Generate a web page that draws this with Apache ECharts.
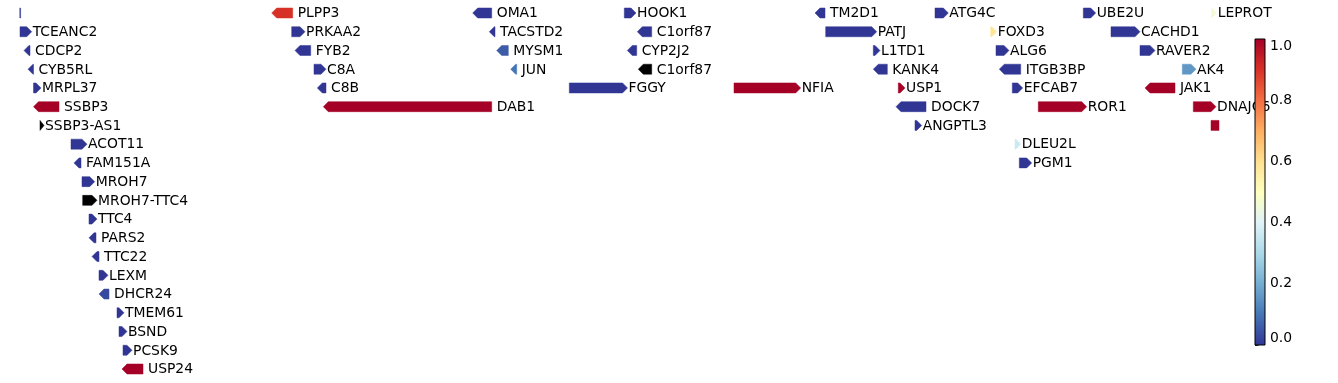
<!DOCTYPE html>
<html>
<head>
<meta charset="utf-8">
<script src="https://cdn.jsdelivr.net/npm/echarts@6/dist/echarts.min.js"></script>
<style>
html,body{margin:0;padding:0;background:#fff;}
#chart{width:1338px;height:383px;}
</style>
</head>
<body>
<div id="chart"></div>
<script>
// Gene track data (positions in track units along the region, row index, strand, score)
const geneNames = ["", "TCEANC2", "CDCP2", "CYB5RL", "MRPL37", "SSBP3", "SSBP3-AS1", "ACOT11", "FAM151A", "MROH7",
  "MROH7-TTC4", "TTC4", "PARS2", "TTC22", "LEXM", "DHCR24", "TMEM61", "BSND", "PCSK9", "USP24",
  "PLPP3", "PRKAA2", "FYB2", "C8A", "C8B", "DAB1", "OMA1", "TACSTD2", "MYSM1", "JUN",
  "FGGY", "HOOK1", "C1orf87", "CYP2J2", "C1orf87", "NFIA", "TM2D1", "PATJ", "L1TD1", "KANK4",
  "USP1", "DOCK7", "ANGPTL3", "ATG4C", "FOXD3", "ALG6", "ITGB3BP", "EFCAB7", "ROR1", "DLEU2L",
  "PGM1", "UBE2U", "CACHD1", "RAVER2", "AK4", "JAK1", "DNAJC6", "", "LEPROT"];
const geneStarts = [19.8, 20, 24, 28, 33.5, 33.5, 40, 71, 74, 82,
  82.7, 89, 89, 92, 99, 99, 117, 119, 123, 122,
  271.7, 291.7, 295, 314, 317.3, 323.3, 472.7, 489.3, 496.7, 510.7,
  569.3, 624.3, 637.3, 627.3, 638.3, 734, 815, 825.7, 873.3, 873.3,
  898.3, 896, 915, 935, 990.7, 996, 999.3, 1012.3, 1038.3, 1015,
  1019.3, 1083.3, 1111, 1140, 1182.3, 1145, 1193.3, 1211, 1211.7];
const geneEnds = [20.6, 31.7, 30, 33.5, 41, 59, 44, 87, 81, 94.7,
  97, 97, 96, 99, 108, 109, 124, 127, 132, 143,
  292.7, 305, 310.7, 326, 326, 491.7, 491.7, 495, 508.3, 516.7,
  627.5, 636, 651.7, 636.7, 651.7, 800.7, 825, 876.7, 880, 887.3,
  905, 926, 921.7, 948.3, 996.7, 1009, 1020.7, 1022.7, 1086.7, 1020.7,
  1031.7, 1095.7, 1140, 1155, 1196, 1175, 1216, 1219, 1216.7];
const geneStrands = [".", "+", "-", "-", "+", "-", "+", "+", "-", "+",
  "+", "+", "-", "-", "+", "-", "+", "+", "+", "-",
  "-", "+", "-", "+", "-", "-", "-", "-", "-", "-",
  "+", "+", "-", "-", "-", "+", "-", "+", "+", "-",
  "+", "-", "+", "+", "+", "+", "-", "+", "+", "+",
  "+", "+", "+", "+", "+", "-", "+", ".", "+"];
const geneRows = [0, 1, 2, 3, 4, 5, 6, 7, 8, 9,
  10, 11, 12, 13, 14, 15, 16, 17, 18, 19,
  0, 1, 2, 3, 4, 5, 0, 1, 2, 3,
  4, 0, 1, 2, 3, 4, 0, 1, 2, 3,
  4, 5, 6, 0, 1, 2, 3, 4, 5, 7,
  8, 0, 1, 2, 3, 4, 5, 6, 0];
const geneScores = [0, 0, 0, 0, 0, 1, null, 0, 0, 0,
  null, 0, 0, 0, 0, 0.03, 0, 0, 0, 1,
  0.9, 0, 0, 0, 0, 1, 0, 0, 0.06, 0.1,
  0, 0, 0, 0, null, 1, 0, 0, 0, 0,
  1, 0, 0, 0, 0.58, 0, 0, 0, 1, 0.36,
  0, 0, 0, 0, 0.16, 1, 1, 1, 0.46];
const colorbarTicks = [0, 0.2, 0.4, 0.6, 0.8, 1.0];

// RdYlBu_r colormap stops
const cmap = ["#313695", "#4575b4", "#74add1", "#abd9e9", "#e0f3f8", "#ffffbf",
  "#fee090", "#fdae61", "#f46d43", "#d73027", "#a50026"];

function hexToRgb(h) { return [parseInt(h.slice(1,3),16), parseInt(h.slice(3,5),16), parseInt(h.slice(5,7),16)]; }
function colorFor(v) {
  if (v === null || v === undefined || isNaN(v)) return "#000000";
  v = Math.max(0, Math.min(1, v));
  const p = v * (cmap.length - 1);
  const i = Math.min(Math.floor(p), cmap.length - 2);
  const t = p - i;
  const a = hexToRgb(cmap[i]), b = hexToRgb(cmap[i + 1]);
  const c = a.map((x, k) => Math.round(x + (b[k] - x) * t));
  return "rgb(" + c.join(",") + ")";
}

const geneData = geneNames.map((n, i) => ({
  value: [geneStarts[i], geneEnds[i], geneRows[i]],
  name: n, strand: geneStrands[i], score: geneScores[i]
}));

const FONT = '13.9px "DejaVu Sans"';
const H = 10, HEAD = 5;

function renderGene(params, api) {
  const d = geneData[params.dataIndex];
  const p1 = api.coord([api.value(0), api.value(2)]);
  const p2 = api.coord([api.value(1), api.value(2)]);
  const x1 = p1[0], x2 = p2[0], y = p1[1];
  const w = x2 - x1;
  const head = Math.min(HEAD, w);
  let pts;
  if (d.strand === "+") {
    pts = [[x1, y - H/2], [x2 - head, y - H/2], [x2, y], [x2 - head, y + H/2], [x1, y + H/2]];
  } else if (d.strand === "-") {
    pts = [[x2, y - H/2], [x1 + head, y - H/2], [x1, y], [x1 + head, y + H/2], [x2, y + H/2]];
  } else {
    pts = [[x1, y - H/2], [x2, y - H/2], [x2, y + H/2], [x1, y + H/2]];
  }
  const col = colorFor(d.score);
  const children = [{
    type: 'polygon', shape: { points: pts },
    style: { fill: col, stroke: col, lineWidth: 0.5 }
  }];
  if (d.name) {
    children.push({
      type: 'text',
      style: {
        text: d.name, x: x2 + (d.strand === "-" ? 5 : 1), y: y + 0.7,
        fill: '#000', font: FONT, align: 'left', verticalAlign: 'middle'
      }
    });
  }
  return { type: 'group', children: children };
}

function renderColorbar(params, api) {
  const a = api.coord([0, 0]);
  const b = api.coord([1, 1]);
  const stops = cmap.map((c, i) => ({ offset: i / (cmap.length - 1), color: c }));
  return {
    type: 'rect',
    shape: { x: a[0], y: b[1], width: b[0] - a[0], height: a[1] - b[1] },
    style: {
      fill: new echarts.graphic.LinearGradient(0, 1, 0, 0, stops),
      stroke: '#000', lineWidth: 1
    },
    z2: 10
  };
}

const chart = echarts.init(document.getElementById('chart'), null, { renderer: 'canvas' });
chart.setOption({
  animation: false,
  backgroundColor: '#fff',
  grid: [
    { left: 0, width: 1338, top: 13, height: 356 },
    { left: 1255, width: 10, top: 39, height: 306 }
  ],
  xAxis: [
    { gridIndex: 0, type: 'value', min: 0, max: 1338, show: false },
    { gridIndex: 1, type: 'value', min: 0, max: 1, show: false }
  ],
  yAxis: [
    { gridIndex: 0, type: 'value', min: 0, max: 19, inverse: true, show: false },
    { gridIndex: 1, type: 'value', min: 0, max: 1, interval: 0.2, position: 'right',
      axisLine: { show: false },
      axisTick: { show: true, length: 3.5, lineStyle: { color: '#000', width: 0.8 } },
      splitLine: { show: false },
      axisLabel: { color: '#000', fontFamily: 'DejaVu Sans', fontSize: 13.9, margin: 5,
        verticalAlignMinLabel: 'bottom', verticalAlignMaxLabel: 'top',
        formatter: v => colorbarTicks.some(t => Math.abs(t - v) < 1e-6) ? v.toFixed(1) : '' } }
  ],
  series: [
    { type: 'custom', xAxisIndex: 0, yAxisIndex: 0, renderItem: renderGene,
      data: geneData.map(d => d.value), clip: false, z: 2 },
    { type: 'custom', xAxisIndex: 1, yAxisIndex: 1, renderItem: renderColorbar,
      data: [[0, 0]], clip: false, z: 10 }
  ]
});
</script>
</body>
</html>
